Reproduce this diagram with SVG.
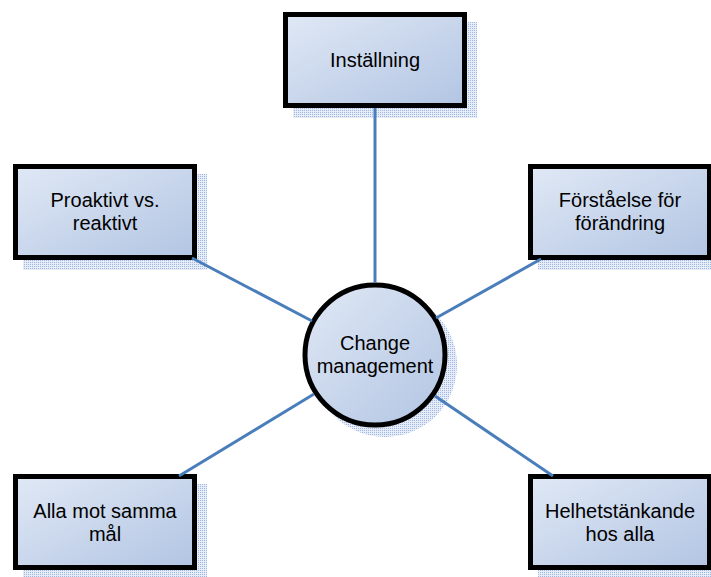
<svg xmlns="http://www.w3.org/2000/svg" width="711" height="577" viewBox="0 0 711 577">
  <defs>
    <linearGradient id="fill" x1="0" y1="0" x2="1" y2="1">
      <stop offset="0" stop-color="#e0e8f5"/>
      <stop offset="1" stop-color="#b2c5e3"/>
    </linearGradient>
    <pattern id="dots" width="2" height="2" patternUnits="userSpaceOnUse">
      <rect width="2" height="2" fill="#e6edf8"/>
      <rect width="1" height="1" fill="#9fb6df"/>
    </pattern>
    <style>
      .shadow { fill: url(#dots); stroke: none; }
      .box { fill: url(#fill); stroke: #000; stroke-width: 5; }
      .label { font-family: "Liberation Sans", Arial, sans-serif; font-size: 20px; fill: #000; text-anchor: middle; }
      .link { stroke: #4a7ebb; stroke-width: 3; fill: none; }
    </style>
  </defs>

  <!-- drop shadows sit under everything -->
  <g id="shadows">
    <rect class="shadow" x="293" y="22" width="184" height="96"/>
    <rect class="shadow" x="23" y="174" width="184" height="96"/>
    <rect class="shadow" x="538" y="174" width="184" height="96"/>
    <rect class="shadow" x="23" y="484" width="184" height="96"/>
    <rect class="shadow" x="538" y="484" width="184" height="96"/>
    <circle class="shadow" cx="385" cy="365" r="72"/>
  </g>

  <g id="node-installning">
    <rect class="box" x="285.5" y="14.5" width="179" height="91"/>
    <text class="label" x="375" y="67">Inställning</text>
  </g>

  <g id="node-proaktivt">
    <rect class="box" x="15.5" y="166.5" width="179" height="91"/>
    <text class="label" x="105" y="207">Proaktivt vs.</text>
    <text class="label" x="105" y="230">reaktivt</text>
  </g>

  <g id="node-forstaelse">
    <rect class="box" x="530.5" y="166.5" width="179" height="91"/>
    <text class="label" x="620" y="207">Förståelse för</text>
    <text class="label" x="620" y="230">förändring</text>
  </g>

  <g id="node-alla">
    <rect class="box" x="15.5" y="476.5" width="179" height="91"/>
    <text class="label" x="105" y="518">Alla mot samma</text>
    <text class="label" x="105" y="541">mål</text>
  </g>

  <g id="node-helhet">
    <rect class="box" x="530.5" y="476.5" width="179" height="91"/>
    <text class="label" x="620" y="518">Helhetstänkande</text>
    <text class="label" x="620" y="541">hos alla</text>
  </g>

  <g id="node-change">
    <circle class="box" cx="375" cy="355" r="70"/>
    <text class="label" x="375" y="350">Change</text>
    <text class="label" x="375" y="373">management</text>
  </g>

  <!-- connectors from the hub to each box -->
  <g id="connectors">
    <line class="link" x1="375" y1="108" x2="375" y2="283"/>
    <line class="link" x1="192" y1="258" x2="312" y2="321"/>
    <line class="link" x1="541" y1="259" x2="436" y2="318"/>
    <line class="link" x1="314" y1="394" x2="179" y2="476"/>
    <line class="link" x1="435" y1="396" x2="553" y2="476"/>
  </g>
</svg>
